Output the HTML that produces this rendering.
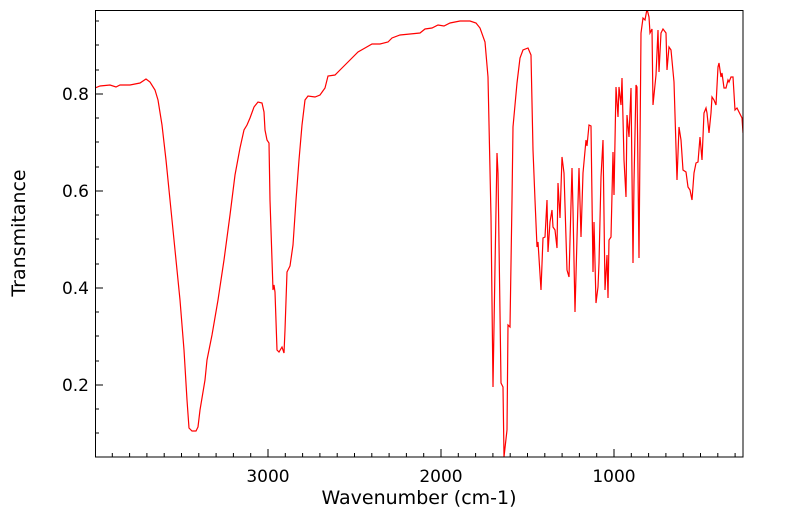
<!DOCTYPE html>
<html><head><style>body{margin:0;background:#fff}svg{display:block}text{font-family:"DejaVu Sans","Liberation Sans",sans-serif;fill:#000}</style></head>
<body>
<svg width="799" height="516" viewBox="0 0 799 516">
<defs><clipPath id="c"><rect x="95" y="10" width="648" height="447"/></clipPath></defs>
<polyline clip-path="url(#c)" fill="none" stroke="#ff0000" stroke-width="1.2" points="95,88 100,86 110,85 116,87 120,85 130,85 140,83 146,79 150,82 155,90 158,100 162,125 166,160 170,200 175,250 180,300 184,350 187,400 189,428 192,431 196,431 198,427 200,410 205,380 207,360 212,335 218,300 224,260 230,215 235,175 240,148 244,130 247,125 250,118 254,107 258,102 262,103 264,112 265,130 267,140 269,143 270,200 272,260 273,290 274,285 275,292 277,350 279,352 282,347 284,353 285,330 287,272 290,266 293,245 296,200 299,160 302,125 305,100 308,96 315,97 320,95 325,88 328,76 335,75 340,70 345,65 350,60 358,52 365,48 372,44 380,44 388,42 392,38 400,35 410,34 420,33 425,29 432,28 438,25 444,26 450,23 460,21 470,21 476,23 480,28 485,42 488,77 491,217 493,387 495,267 497,153 498,173 501,383 503,387 504,457 507,430 508,325 510,327 512,200 513,127 517,83 520,58 523,50 528,48 531,55 533,150 535,200 537,247 538,242 541,290 543,238 545,237 547,200 548,252 550,222 552,210 553,227 555,230 557,248 558,183 560,218 562,157 564,173 567,270 569,277 572,168 573,210 575,312 577,238 579,168 581,237 583,173 586,140 587,146 589,125 591,126 593,272 594,222 596,303 598,287 599,263 601,177 603,140 605,290 607,255 608,298 609,240 611,237 613,152 614,195 616,87 618,117 619,87 621,105 622,78 624,160 626,197 627,115 629,137 631,88 633,263 634,182 636,85 637,87 639,258 641,33 643,18 645,20 647,9 649,17 650,33 652,29 653,105 656,75 658,30 659,72 661,33 663,29 666,33 667,70 669,47 671,50 674,82 677,180 679,127 681,140 683,170 686,172 688,187 690,190 692,200 694,173 696,163 698,162 700,137 702,160 704,113 706,108 707,113 709,133 711,113 712,97 714,100 716,105 718,67 719,63 721,77 722,73 724,88 726,88 728,80 729,82 731,77 733,77 735,110 737,108 739,112 742,118 743,133"/>
<rect x="95.5" y="10.5" width="647.5" height="446.5" fill="none" stroke="#000" stroke-width="1"/>
<g stroke="#000" stroke-width="1">
<path d="M268,457v-8M441,457v-8M614,457v-8M95,94h8M95,191h8M95,288h8M95,385h8"/>
<path d="M112.3,457v-4M129.6,457v-4M146.9,457v-4M164.2,457v-4M181.5,457v-4M198.8,457v-4M216.1,457v-4M233.4,457v-4M250.7,457v-4M285.3,457v-4M302.6,457v-4M319.9,457v-4M337.2,457v-4M354.5,457v-4M371.8,457v-4M389.1,457v-4M406.4,457v-4M423.7,457v-4M458.3,457v-4M475.6,457v-4M492.9,457v-4M510.2,457v-4M527.5,457v-4M544.8,457v-4M562.1,457v-4M579.4,457v-4M596.7,457v-4M631.3,457v-4M648.6,457v-4M665.9,457v-4M683.2,457v-4M700.5,457v-4M717.8,457v-4M735.1,457v-4"/>
<path d="M95,433h4M95,409h4M95,361h4M95,336h4M95,312h4M95,264h4M95,239h4M95,215h4M95,167h4M95,142h4M95,118h4M95,70h4M95,45h4M95,21h4"/>
</g>
<g font-size="17">
<text x="268" y="482" text-anchor="middle">3000</text>
<text x="441" y="482" text-anchor="middle">2000</text>
<text x="614" y="482" text-anchor="middle">1000</text>
<text x="89" y="100" text-anchor="end">0.8</text>
<text x="89" y="197" text-anchor="end">0.6</text>
<text x="89" y="294" text-anchor="end">0.4</text>
<text x="89" y="391" text-anchor="end">0.2</text>
</g>
<g font-size="19">
<text x="419" y="504" text-anchor="middle">Wavenumber (cm-1)</text>
<text transform="translate(25,233) rotate(-90)" text-anchor="middle">Transmitance</text>
</g>
</svg>
</body></html>
